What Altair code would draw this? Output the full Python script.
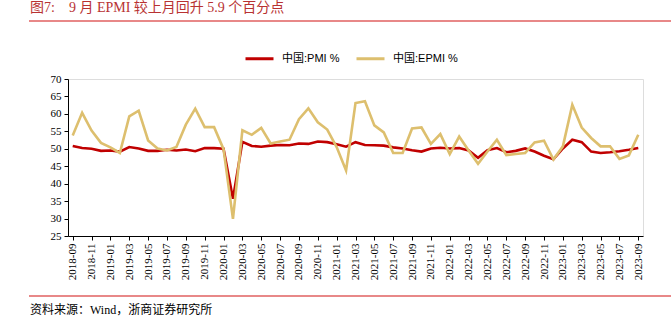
import altair as alt
import pandas as pd

months = [f"{y}-{m:02d}" for y in range(2018, 2024) for m in range(1, 13)]
months = [d for d in months if "2018-09" <= d <= "2023-09"]

pmi = [50.8, 50.2, 50.0, 49.4,
       49.5, 49.2, 50.5, 50.1, 49.4, 49.4, 49.7, 49.5, 49.8, 49.3, 50.2, 50.2,
       50.0, 35.7, 52.0, 50.8, 50.6, 50.9, 51.1, 51.0, 51.5, 51.4, 52.1, 51.9,
       51.3, 50.6, 51.9, 51.1, 51.0, 50.9, 50.4, 50.1, 49.6, 49.2, 50.1, 50.3,
       50.1, 50.2, 49.5, 47.4, 49.6, 50.2, 49.0, 49.4, 50.1, 49.2, 48.0, 47.0,
       50.1, 52.6, 51.9, 49.2, 48.8, 49.0, 49.3, 49.7, 50.2]

epmi = [53.8, 60.3, 55.2, 51.7,
        50.4, 48.8, 59.3, 60.9, 52.4, 50.1, 49.5, 50.5, 56.9, 61.5, 56.2, 56.2,
        49.9, 29.9, 55.3, 54.0, 56.0, 51.5, 52.1, 52.6, 58.5, 61.6, 57.6, 55.5,
        50.5, 43.8, 63.1, 63.6, 56.7, 54.7, 48.8, 48.8, 55.8, 56.1, 51.4, 54.2,
        48.5, 53.5, 49.5, 45.7, 49.2, 52.6, 48.2, 48.5, 48.8, 51.8, 52.3, 46.9,
        50.7, 62.6, 56.1, 53.1, 50.7, 50.7, 47.1, 48.1, 54.0]

series_names = ["中国:PMI %", "中国:EPMI %"]
series_colors = ["#C00000", "#DDBF6E"]
tick_labels = months[::2]
y_ticks = list(range(25, 75, 5))

NB = "\u00a0"
title_text = f"图7:{NB*4}9 月 EPMI 较上月回升 5.9 个百分点"
source_text = "资料来源：Wind，浙商证券研究所"

df = pd.DataFrame({
    "date": months * 2,
    "series": [series_names[0]] * len(months) + [series_names[1]] * len(months),
    "value": pmi + epmi,
})

serif = "Liberation Serif, Times New Roman, Noto Sans CJK SC"
sans = "Liberation Sans, Arial, Noto Sans CJK SC"

lines = alt.Chart(df).mark_line(strokeWidth=2.6).encode(
    x=alt.X("date:O", sort=months,
            scale=alt.Scale(type="point", padding=0.5),
            axis=alt.Axis(title=None, values=tick_labels, labelAngle=-90,
                          labelFont=serif, labelFontSize=11, labelColor="#000",
                          domainColor="#000", tickColor="#000", tickSize=4,
                          labelPadding=3, grid=False)),
    y=alt.Y("value:Q", scale=alt.Scale(domain=[25, 70], nice=False, zero=False),
            axis=alt.Axis(title=None, values=y_ticks, labelFont=serif,
                          labelFontSize=11, labelColor="#000", domainColor="#000",
                          tickColor="#000", tickSize=4, labelPadding=3, grid=False)),
    color=alt.Color("series:N", sort=series_names,
                    scale=alt.Scale(domain=series_names, range=series_colors),
                    legend=alt.Legend(title=None, orient="none", direction="horizontal",
                                      legendX=176, legendY=-36,
                                      symbolType="stroke", symbolSize=784,
                                      symbolStrokeWidth=3, labelFont=sans,
                                      labelFontSize=11, labelColor="#000",
                                      columnPadding=10, labelOffset=7)),
    order=alt.Order("series:N"),
)

one = pd.DataFrame({"a": [0]})

top_rule = alt.Chart(one).mark_rule(color="#E06060", strokeWidth=1.5).encode(
    x=alt.value(-39), x2=alt.value(603), y=alt.value(-58))
bottom_rule = alt.Chart(one).mark_rule(color="#E06060", strokeWidth=1.5).encode(
    x=alt.value(-39), x2=alt.value(603), y=alt.value(217))

title = alt.Chart(pd.DataFrame({"t": [title_text]})).mark_text(
    align="left", baseline="middle", font=serif, fontSize=14, color="#B83232"
).encode(text="t:N", x=alt.value(-38), y=alt.value(-71))

source = alt.Chart(pd.DataFrame({"t": [source_text]})).mark_text(
    align="left", baseline="middle", font=serif, fontSize=12, color="#000"
).encode(text="t:N", x=alt.value(-38), y=alt.value(231))

chart = alt.layer(lines, top_rule, bottom_rule, title, source).properties(
    width=575, height=157,
    autosize=alt.AutoSizeParams(type="none"),
    padding={"left": 68, "top": 79, "right": 28, "bottom": 88},
).configure_view(stroke=None).configure(background="white")

chart.save("out.html", embed_options={"renderer": "svg", "actions": False})
